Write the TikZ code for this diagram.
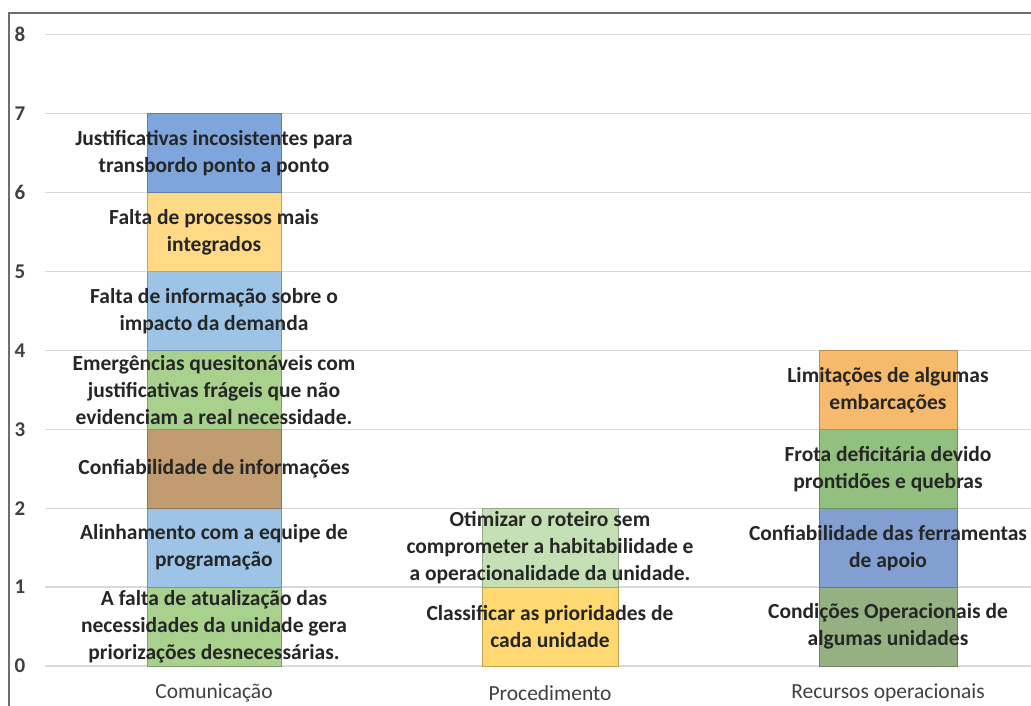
\documentclass[tikz,border=0pt]{standalone}
\usepackage{fontspec}
\setmainfont{Carlito}
\definecolor{grid}{HTML}{D9D9D9}
\definecolor{frame}{HTML}{6E6E6E}
\definecolor{txt}{HTML}{262626}
\definecolor{axistxt}{HTML}{404040}
\definecolor{cgreen}{HTML}{A9D18E}
\definecolor{cblue}{HTML}{9DC3E6}
\definecolor{ctan}{HTML}{C09C70}
\definecolor{cyellow}{HTML}{FFDA86}
\definecolor{cdblue}{HTML}{7FA6DC}
\definecolor{porange}{HTML}{FFD872}
\definecolor{plgreen}{HTML}{C5E0B4}
\definecolor{rgray}{HTML}{95B081}
\definecolor{rblue}{HTML}{819FD0}
\definecolor{rgreen}{HTML}{92C07E}
\definecolor{rorange}{HTML}{F5BA6C}
\tikzset{
  seg/.style={draw=#1!75!black, fill=#1, line width=0.9pt},
  barlabel/.style={align=center, text=txt, font=\fontsize{21.5}{27}\selectfont\bfseries, inner sep=0pt},
  ticklabel/.style={text=axistxt, font=\fontsize{21}{24}\selectfont\bfseries, inner sep=0pt},
  catlabel/.style={text=axistxt, font=\fontsize{21.5}{25}\selectfont, inner sep=0pt},
  gridline/.style={draw=grid, line width=1.3pt}
}
\begin{document}
\begin{tikzpicture}[x=1pt, y=78.9pt]
\useasboundingbox (0,-0.507) rectangle (1031,8.441);
% frame
\draw [frame, line width=1.3pt] (9,-0.507) -- (9,8.276) -- (1031,8.276);
% grid
\draw [gridline] (45,0) -- (1031,0);
\draw [gridline] (45,1) -- (1031,1);
\draw [gridline] (45,2) -- (1031,2);
\draw [gridline] (45,3) -- (1031,3);
\draw [gridline] (45,4) -- (1031,4);
\draw [gridline] (45,5) -- (1031,5);
\draw [gridline] (45,6) -- (1031,6);
\draw [gridline] (45,7) -- (1031,7);
\draw [gridline] (45,8) -- (1031,8);
\node [ticklabel] (t0) at (20,0) {0};
\node [ticklabel] (t1) at (20,1) {1};
\node [ticklabel] (t2) at (20,2) {2};
\node [ticklabel] (t3) at (20,3) {3};
\node [ticklabel] (t4) at (20,4) {4};
\node [ticklabel] (t5) at (20,5) {5};
\node [ticklabel] (t6) at (20,6) {6};
\node [ticklabel] (t7) at (20,7) {7};
\node [ticklabel] (t8) at (20,8) {8};
% Comunicacao
\draw [seg=cgreen] (147,0) rectangle (281,1);
\draw [seg=cblue] (147,1) rectangle (281,2);
\draw [seg=ctan] (147,2) rectangle (281,3);
\draw [seg=cgreen] (147,3) rectangle (281,4);
\draw [seg=cblue] (147,4) rectangle (281,5);
\draw [seg=cyellow] (147,5) rectangle (281,6);
\draw [seg=cdblue] (147,6) rectangle (281,7);
\node [barlabel] (com1) at (214,0.5) {A falta de atualização das\\necessidades da unidade gera\\priorizações desnecessárias.};
\node [barlabel] (com2) at (214,1.5) {Alinhamento com a equipe de\\programação};
\node [barlabel] (com3) at (214,2.5) {Confiabilidade de informações};
\node [barlabel] (com4) at (214,3.5) {Emergências quesitonáveis com\\justificativas frágeis que não\\evidenciam a real necessidade.};
\node [barlabel] (com5) at (214,4.5) {Falta de informação sobre o\\impacto da demanda};
\node [barlabel] (com6) at (214,5.5) {Falta de processos mais\\integrados};
\node [barlabel] (com7) at (214,6.5) {Justificativas incosistentes para\\transbordo ponto a ponto};
% Procedimento
\draw [seg=porange] (482,0) rectangle (618,1);
\draw [seg=plgreen] (482,1) rectangle (618,2);
\node [barlabel] (proc1) at (550,0.5) {Classificar as prioridades de\\cada unidade};
\node [barlabel] (proc2) at (550,1.5) {Otimizar o roteiro sem\\comprometer a habitabilidade e\\a operacionalidade da unidade.};
% Recursos operacionais
\draw [seg=rgray] (819,0) rectangle (957,1);
\draw [seg=rblue] (819,1) rectangle (957,2);
\draw [seg=rgreen] (819,2) rectangle (957,3);
\draw [seg=rorange] (819,3) rectangle (957,4);
\node [barlabel] (rec1) at (888,0.5) {Condições Operacionais de\\algumas unidades};
\node [barlabel] (rec2) at (888,1.5) {Confiabilidade das ferramentas\\de apoio};
\node [barlabel] (rec3) at (888,2.5) {Frota deficitária devido\\prontidões e quebras};
\node [barlabel] (rec4) at (888,3.5) {Limitações de algumas\\embarcações};
% categories
\node [catlabel] (comunicacao) at (214,-0.342) {Comunicação};
\node [catlabel] (procedimento) at (550,-0.342) {Procedimento};
\node [catlabel] (recursos) at (888,-0.342) {Recursos operacionais};
\end{tikzpicture}
\end{document}
